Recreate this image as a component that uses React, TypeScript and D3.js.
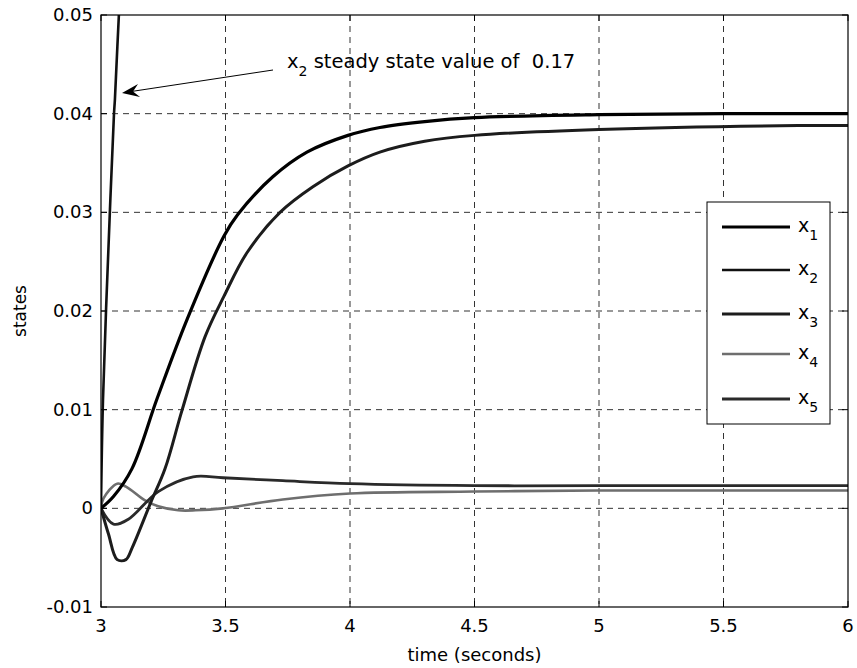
import React, { useEffect, useRef } from 'react';
import * as d3 from 'd3';

// time axis samples (seconds) for each state
const x1T = [3.0, 3.05, 3.124, 3.225, 3.345, 3.494, 3.55, 3.69, 3.827, 3.992, 4.12, 4.3, 4.5, 5.0, 5.5, 6.0];
const x1V = [0, 0.0012, 0.004, 0.0111, 0.0191, 0.0276, 0.0298, 0.0336, 0.0361, 0.0378, 0.0386, 0.0392, 0.0396, 0.0399, 0.04, 0.04];

const x2T = [3.0, 3.008, 3.036, 3.052, 3.056, 3.072, 3.09];
const x2V = [0, 0.011, 0.0303, 0.0399, 0.0415, 0.0501, 0.058];

const x3T = [3.0, 3.03, 3.065, 3.1, 3.125, 3.2, 3.257, 3.325, 3.418, 3.494, 3.586, 3.719, 3.851, 3.992, 4.12, 4.3, 4.5, 5.0, 5.8, 6.0];
const x3V = [0, -0.0026, -0.0052, -0.0052, -0.004, 0.0006, 0.004, 0.0099, 0.0174, 0.0215, 0.0259, 0.03, 0.0326, 0.0347, 0.0361, 0.0372, 0.0378, 0.0384, 0.0388, 0.0388];

const x4T = [3.0, 3.01, 3.065, 3.1, 3.177, 3.23, 3.31, 3.38, 3.49, 3.73, 4.0, 4.5, 5.0, 6.0];
const x4V = [0, 0.001, 0.0025, 0.0022, 0.0008, 0.0002, -0.0002, -0.0002, 0.0, 0.0009, 0.0015, 0.0017, 0.0018, 0.0018];

const x5T = [3.0, 3.05, 3.11, 3.23, 3.37, 3.49, 3.73, 4.0, 4.5, 5.0, 6.0];
const x5V = [0, -0.0016, -0.0011, 0.0017, 0.0032, 0.0031, 0.0028, 0.0025, 0.0023, 0.0023, 0.0023];

const seriesNames = ['1', '2', '3', '4', '5'];
const xTicks = [3, 3.5, 4, 4.5, 5, 5.5, 6];
const yTicks = [-0.01, 0, 0.01, 0.02, 0.03, 0.04, 0.05];

const W = 857;
const H = 668;
const FONT = 'DejaVu Sans, sans-serif';

export default function App() {
  const ref = useRef<SVGSVGElement>(null);

  useEffect(() => {
    const svg = d3.select(ref.current);
    svg.selectAll('*').remove();

    const left = 101, right = 848, top = 15, bottom = 607;
    const x = d3.scaleLinear().domain([3, 6]).range([left, right]);
    const y = d3.scaleLinear().domain([-0.01, 0.05]).range([bottom, top]);

    svg.append('rect').attr('width', W).attr('height', H).attr('fill', '#fff');

    svg.append('defs').append('clipPath').attr('id', 'plotclip')
      .append('rect').attr('x', left).attr('y', top).attr('width', right - left).attr('height', bottom - top);

    // grid
    const grid = svg.append('g').attr('stroke', '#333').attr('stroke-width', 1).attr('stroke-dasharray', '6,5');
    xTicks.slice(1, -1).forEach(t => {
      grid.append('line').attr('x1', x(t)).attr('x2', x(t)).attr('y1', top).attr('y2', bottom);
    });
    yTicks.slice(1, -1).forEach(t => {
      grid.append('line').attr('x1', left).attr('x2', right).attr('y1', y(t)).attr('y2', y(t));
    });

    // curves
    const line = d3.line<[number, number]>()
      .x(d => x(d[0]))
      .y(d => y(d[1]))
      .curve(d3.curveCatmullRom.alpha(0.5));

    const zip = (ts: number[], vs: number[]) => ts.map((t, i) => [t, vs[i]] as [number, number]);
    const series = [
      { data: zip(x1T, x1V), color: '#000', w: 3.2 },
      { data: zip(x2T, x2V), color: '#111', w: 2.6 },
      { data: zip(x3T, x3V), color: '#1c1c1c', w: 3.0 },
      { data: zip(x4T, x4V), color: '#6e6e6e', w: 2.6 },
      { data: zip(x5T, x5V), color: '#2a2a2a', w: 2.8 },
    ];

    const curves = svg.append('g').attr('clip-path', 'url(#plotclip)');
    // grey first so the darker ones sit on top
    [3, 4, 2, 0, 1].forEach(i => {
      const s = series[i];
      curves.append('path')
        .attr('d', line(s.data))
        .attr('fill', 'none')
        .attr('stroke', s.color)
        .attr('stroke-width', s.w)
        .attr('stroke-linejoin', 'round');
    });

    // frame + ticks
    svg.append('rect').attr('x', left).attr('y', top).attr('width', right - left).attr('height', bottom - top)
      .attr('fill', 'none').attr('stroke', '#000').attr('stroke-width', 1.2);
    const tk = svg.append('g').attr('stroke', '#000').attr('stroke-width', 1);
    xTicks.forEach(t => {
      tk.append('line').attr('x1', x(t)).attr('x2', x(t)).attr('y1', bottom).attr('y2', bottom - 6);
      tk.append('line').attr('x1', x(t)).attr('x2', x(t)).attr('y1', top).attr('y2', top + 6);
    });
    yTicks.forEach(t => {
      tk.append('line').attr('x1', left).attr('x2', left + 6).attr('y1', y(t)).attr('y2', y(t));
      tk.append('line').attr('x1', right).attr('x2', right - 6).attr('y1', y(t)).attr('y2', y(t));
    });

    // tick labels
    const fmtX = (t: number) => (Number.isInteger(t) ? String(t) : t.toFixed(1));
    xTicks.forEach(t => {
      svg.append('text').attr('x', x(t)).attr('y', bottom + 25)
        .attr('text-anchor', 'middle').attr('font-family', FONT).attr('font-size', 18)
        .text(fmtX(t));
    });
    yTicks.forEach(t => {
      svg.append('text').attr('x', left - 8).attr('y', y(t) + 6)
        .attr('text-anchor', 'end').attr('font-family', FONT).attr('font-size', 18)
        .text(t === 0 ? '0' : t.toFixed(2));
    });

    // axis titles
    svg.append('text').attr('x', (left + right) / 2).attr('y', 661)
      .attr('text-anchor', 'middle').attr('font-family', FONT).attr('font-size', 18)
      .text('time (seconds)');
    svg.append('text').attr('transform', `translate(26,${(top + bottom) / 2}) rotate(-90)`)
      .attr('text-anchor', 'middle').attr('font-family', FONT).attr('font-size', 17)
      .text('states');

    // annotation
    const ann = svg.append('text').attr('x', 287).attr('y', 68)
      .attr('font-family', FONT).attr('font-size', 19.5).style('white-space', 'pre');
    ann.append('tspan').text('x');
    ann.append('tspan').attr('dy', 8).attr('font-size', 14).text('2');
    ann.append('tspan').attr('dy', -8).text(' steady state value of  0.17');

    svg.append('line').attr('x1', 273).attr('y1', 70).attr('x2', 128).attr('y2', 92)
      .attr('stroke', '#000').attr('stroke-width', 1);
    svg.append('path').attr('d', 'M122,93 L138,84 L133,91.5 L140,97 Z').attr('fill', '#000');

    // legend
    const lx = 707, ly = 202, lw = 123, lh = 222;
    svg.append('rect').attr('x', lx).attr('y', ly).attr('width', lw).attr('height', lh)
      .attr('fill', '#fff').attr('stroke', '#000').attr('stroke-width', 1);
    const rowY = [227, 270, 314, 354, 399];
    seriesNames.forEach((n, i) => {
      const s = series[i];
      svg.append('line').attr('x1', 722).attr('x2', 790).attr('y1', rowY[i]).attr('y2', rowY[i])
        .attr('stroke', s.color).attr('stroke-width', s.w);
      const t = svg.append('text').attr('x', 798).attr('y', rowY[i] + 5)
        .attr('font-family', FONT).attr('font-size', 19);
      t.append('tspan').text('x');
      t.append('tspan').attr('dy', 8).attr('font-size', 14).text(n);
    });
  }, []);

  return (
    <svg ref={ref} width={W} height={H} style={{ position: 'absolute', left: 0, top: 0 }} />
  );
}
